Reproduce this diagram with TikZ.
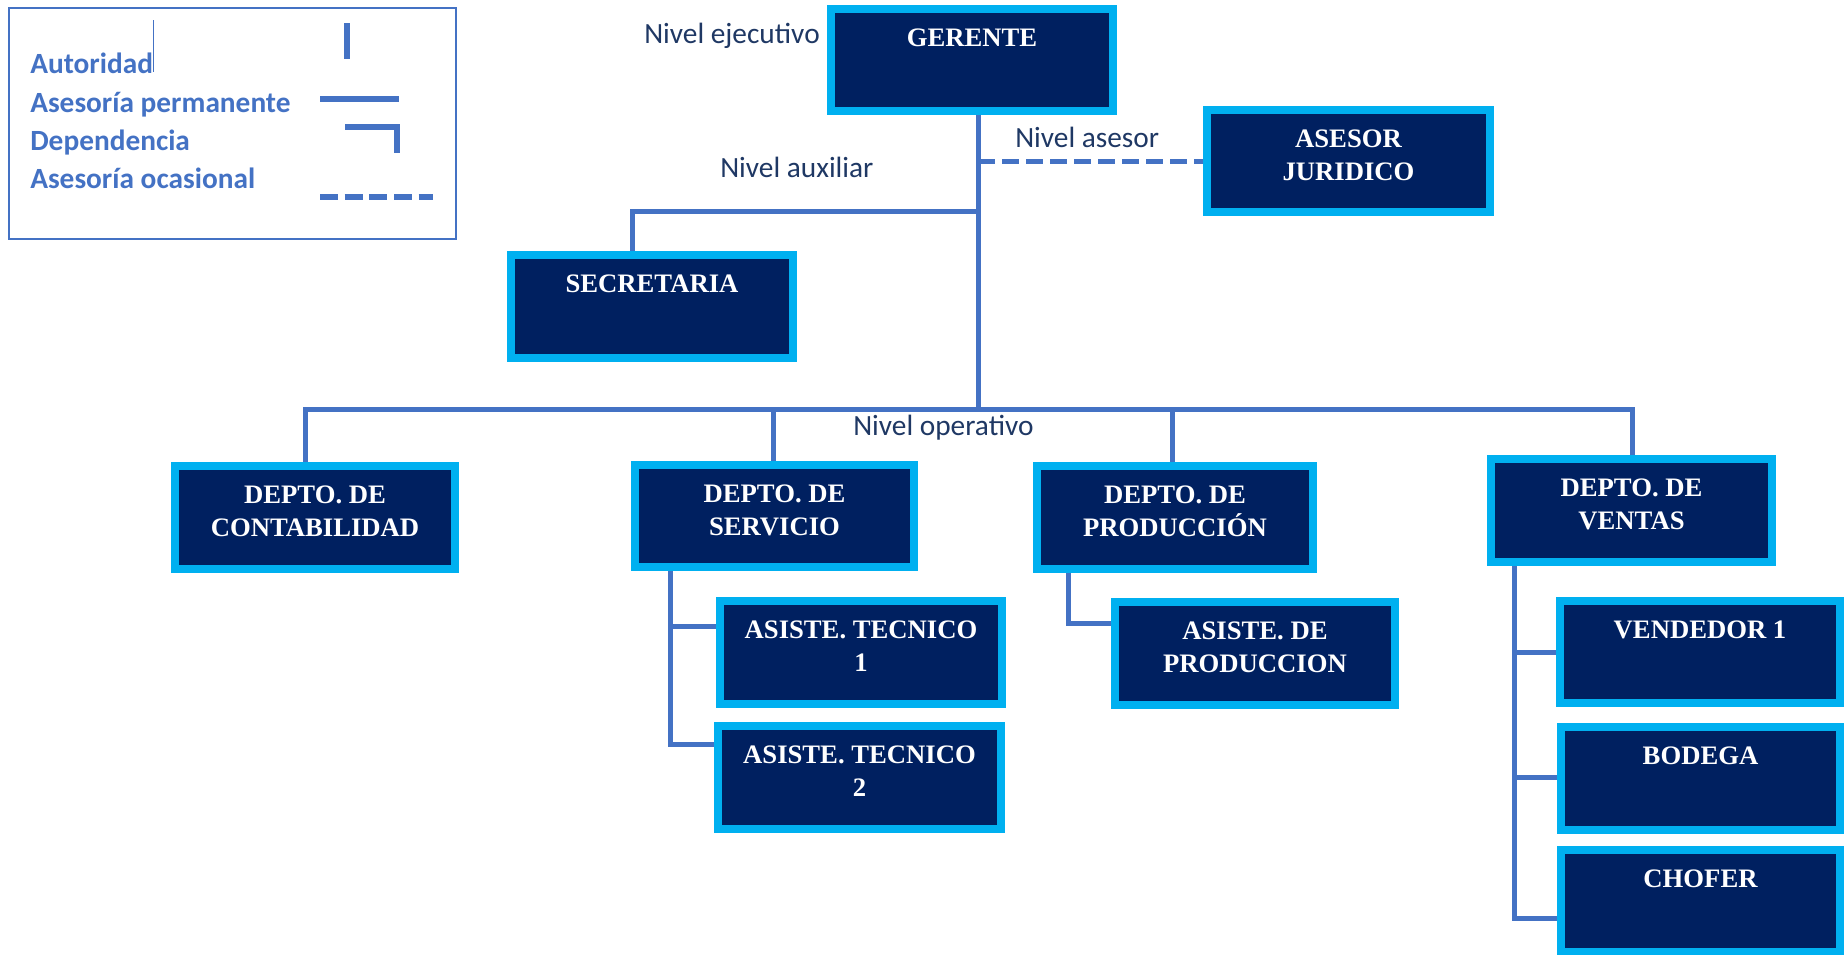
\documentclass[tikz,border=0pt]{standalone}
\usepackage{fontspec}
\setmainfont{Liberation Serif}
\newfontfamily\calibri{Carlito}
\usetikzlibrary{calc}

\definecolor{linkblue}{HTML}{4472C4}
\definecolor{rimcyan}{HTML}{00B0F0}
\definecolor{boxnavy}{HTML}{002060}
\definecolor{levelnavy}{HTML}{1F3864}

\pgfdeclarelayer{back}
\pgfsetlayers{back,main}

\tikzset{
  unitbox/.style={draw=rimcyan, fill=boxnavy, line width=6pt, inner sep=0pt},
  boxtext/.style={text=white, font=\bfseries\fontsize{20}{24.75}\selectfont,
    align=center, inner sep=0pt, anchor=base},
  link/.style={draw=linkblue, line width=3.75pt},
  occasional/.style={link, dash pattern=on 12.75pt off 5.25pt},
  legendtext/.style={text=linkblue, font=\calibri\bfseries\fontsize{22}{25}\selectfont,
    inner sep=0pt, anchor=base west},
  leveltext/.style={text=levelnavy, font=\calibri\fontsize{22}{24}\selectfont,
    inner sep=0pt, anchor=base west},
  legendmark/.style={draw=linkblue, line width=4.5pt}
}

% #1 name, #2 left, #3 top, #4 right, #5 bottom (outer edges, px), #6 caption
\newcommand\orgunit[6]{%
  \node[unitbox, minimum width={(#4-#2-8)*0.75pt}, minimum height={(#5-#3-8)*0.75pt}]
    (#1) at ({(#2+#4)/2},{(#3+#5)/2}) {};
  \node[boxtext] (#1-label) at ({(#2+#4)/2},{#3+41}) {#6};
}
% same, with a caption of two lines (the base anchor sits on the last line)
\newcommand\orgunittwo[6]{%
  \node[unitbox, minimum width={(#4-#2-8)*0.75pt}, minimum height={(#5-#3-8)*0.75pt}]
    (#1) at ({(#2+#4)/2},{(#3+#5)/2}) {};
  \node[boxtext] (#1-label) at ({(#2+#4)/2},{#3+74}) {#6};
}

\begin{document}
\begin{tikzpicture}[x=0.75pt, y=-0.75pt]
\useasboundingbox (0,0) rectangle (1844,954);

% legend
\node[draw=linkblue, line width=1.5pt, minimum width={447*0.75pt}, minimum height={231*0.75pt},
  inner sep=0pt] (legend) at (232.5,123.5) {};
\node[legendtext] (lg-aut) at (30,73) {Autoridad};
\node[legendtext] (lg-per) at (30,112) {Asesoría permanente};
\node[legendtext] (lg-dep) at (30,150) {Dependencia};
\node[legendtext] (lg-oca) at (30,188) {Asesoría ocasional};
\draw[linkblue, line width=0.75pt] (153,20) -- (153,72);
\draw[legendmark] (347,23) -- (347,59);
\draw[legendmark] (320,99) -- (399,99);
\draw[legendmark] (345,127) -- (397,127) -- (397,153);
\draw[legendmark, dash pattern=on 13.5pt off 5pt] (320,197) -- (433,197);

% units
\orgunit{ger}{827}{5}{1117}{115}{GERENTE}
\orgunittwo{ase}{1203}{106}{1494}{216}{ASESOR\\JURIDICO}
\orgunit{sec}{507}{251}{797}{362}{SECRETARIA}
\orgunittwo{con}{171}{462}{459}{573}{DEPTO. DE\\CONTABILIDAD}
\orgunittwo{ser}{631}{461}{918}{571}{DEPTO. DE\\SERVICIO}
\orgunittwo{pro}{1033}{462}{1317}{573}{DEPTO. DE\\PRODUCCIÓN}
\orgunittwo{ven}{1487}{455}{1776}{566}{DEPTO. DE\\VENTAS}
\orgunittwo{at1}{716}{597}{1006}{708}{ASISTE. TECNICO\\1}
\orgunittwo{at2}{714}{722}{1005}{833}{ASISTE. TECNICO\\2}
\orgunittwo{ap}{1111}{598}{1399}{709}{ASISTE. DE\\PRODUCCION}
\orgunit{vd}{1556}{597}{1844}{707}{VENDEDOR 1}
\orgunit{bod}{1557}{723}{1844}{834}{BODEGA}
\orgunit{cho}{1557}{846}{1844}{956}{CHOFER}

% level captions
\node[leveltext] (lv-eje) at (644,43) {Nivel ejecutivo};
\node[leveltext] (lv-ase) at (1015,147) {Nivel asesor};
\node[leveltext] (lv-aux) at (720,177) {Nivel auxiliar};
\node[leveltext] (lv-ope) at (853,435) {Nivel operativo};

% junction points
\coordinate (trunk) at (978,409);
\coordinate (secj) at (632,211);
\coordinate (bar-con) at (305,409);
\coordinate (bar-ser) at (773,409);
\coordinate (bar-pro) at (1172,409);
\coordinate (bar-ven) at (1632,409);
\coordinate (sj1) at (670,626);
\coordinate (sj2) at (670,744);
\coordinate (pj) at (1068,623);
\coordinate (vj1) at (1514,652);
\coordinate (vj2) at (1514,777);
\coordinate (vj3) at (1514,918);

\begin{pgfonlayer}{back}
  \draw[link] (trunk |- ger.south) -- (trunk);
  \draw[link] (trunk |- secj) -- (secj) -- (secj |- sec.north);
  \draw[occasional] (trunk |- ase.west) -- (ase.west);
  \draw[link] (bar-con |- con.north) -- (bar-con) -- (bar-ven) -- (bar-ven |- ven.north);
  \draw[link] (bar-ser) -- (bar-ser |- ser.north);
  \draw[link] (bar-pro) -- (bar-pro |- pro.north);
  \draw[link] (sj1 |- ser.south) -- (sj2) -- (sj2 -| at2.west);
  \draw[link] (sj1) -- (sj1 -| at1.west);
  \draw[link] (pj |- pro.south) -- (pj) -- (pj -| ap.west);
  \draw[link] (vj1 |- ven.south) -- (vj3) -- (vj3 -| cho.west);
  \draw[link] (vj1) -- (vj1 -| vd.west);
  \draw[link] (vj2) -- (vj2 -| bod.west);
\end{pgfonlayer}
\end{tikzpicture}
\end{document}
